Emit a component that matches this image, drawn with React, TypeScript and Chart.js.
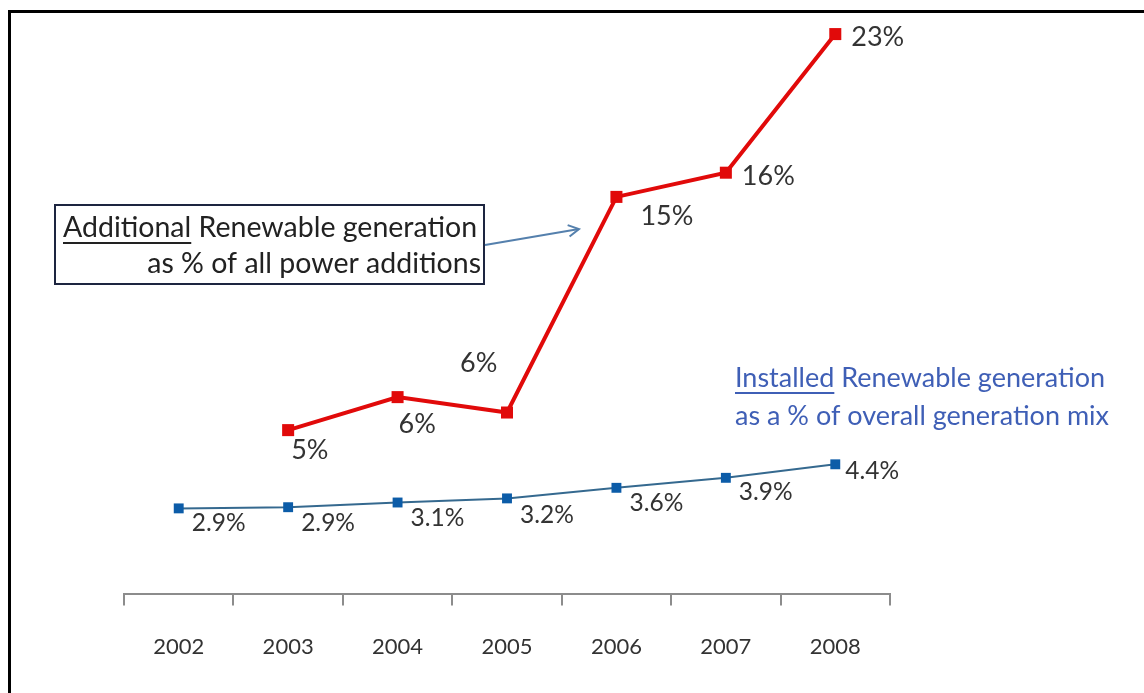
import React, { useEffect, useRef } from "react";
import { Chart, registerables } from "chart.js";

Chart.register(...registerables);

// ---- data ----
const years = ["2002", "2003", "2004", "2005", "2006", "2007", "2008"];
// Additional renewable generation as % of all power additions
const additionalShare: (number | null)[] = [null, 5.0, 6.5, 5.8, 15.6, 16.7, 23.0];
const additionalLabels = ["", "5%", "6%", "6%", "15%", "16%", "23%"];
// Installed renewable generation as % of overall generation mix
const installedShare = [2.9, 2.94, 3.1, 3.24, 3.6, 3.94, 4.4];
const installedLabels = installedShare.map((v) => v.toFixed(1) + "%");

// ---- styling ----
const FONT = "Lato, 'Open Sans', sans-serif";
const TEXT = "#333333";
const RED = "#e10a0a";
const BLUE_LINE = "#35698f";
const BLUE_MARK = "#0c5ca8";
const NOTE_BLUE = "#3f5fb6";
const AXIS = "#8c8c8c";
// label offsets relative to point: [dx to left edge of text, dy to text middle]
const additionalLabelOffsets: ([number, number] | null)[] = [null, [3, 20], [1, 27], [-47, -49], [24, 19], [16, 4], [16, 3]];
const installedLabelOffsets: [number, number][] = [[13, 15], [13, 16], [13, 16], [13, 17], [13, 15], [13, 14], [10, 7]];

function underlinedText(ctx: CanvasRenderingContext2D, first: string, rest: string, x: number, y: number, color: string, ul: number) {
  ctx.fillStyle = color;
  ctx.textAlign = "left";
  ctx.textBaseline = "middle";
  ctx.fillText(first, x, y);
  const w = ctx.measureText(first).width;
  ctx.fillText(rest, x + w, y);
  ctx.strokeStyle = color;
  ctx.lineWidth = 1.8;
  ctx.beginPath();
  ctx.moveTo(x, y + ul);
  ctx.lineTo(x + w, y + ul);
  ctx.stroke();
}

const overlayPlugin = {
  id: "overlay",
  afterDatasetsDraw(chart: any) {
    const ctx: CanvasRenderingContext2D = chart.ctx;
    ctx.save();
    ctx.textAlign = "left";
    ctx.textBaseline = "middle";
    ctx.fillStyle = TEXT;
    // data labels
    ctx.font = `27px ${FONT}`;
    const m0 = chart.getDatasetMeta(0);
    m0.data.forEach((pt: any, i: number) => {
      const off = additionalLabelOffsets[i];
      if (!off || additionalShare[i] == null) return;
      ctx.fillText(additionalLabels[i], pt.x + off[0], pt.y + off[1]);
    });
    ctx.font = `24.5px ${FONT}`;
    const m1 = chart.getDatasetMeta(1);
    m1.data.forEach((pt: any, i: number) => {
      const off = installedLabelOffsets[i];
      ctx.fillText(installedLabels[i], pt.x + off[0], pt.y + off[1]);
    });

    // boxed note
    ctx.strokeStyle = "#1d2540";
    ctx.lineWidth = 2;
    ctx.strokeRect(55, 205, 429, 79);
    ctx.font = `28.5px ${FONT}`;
    underlinedText(ctx, "Additional", " Renewable generation", 63, 228, "#222222", 15);
    ctx.textAlign = "right";
    ctx.fillStyle = "#222222";
    ctx.fillText("as % of all power additions", 481, 264);

    // arrow
    ctx.strokeStyle = "#5580ad";
    ctx.lineWidth = 2;
    ctx.beginPath();
    ctx.moveTo(485, 245);
    ctx.lineTo(579, 229);
    ctx.stroke();
    const ang = Math.atan2(229 - 245, 579 - 485);
    ctx.beginPath();
    ctx.moveTo(579 - 12 * Math.cos(ang - 0.5), 229 - 12 * Math.sin(ang - 0.5));
    ctx.lineTo(579, 229);
    ctx.lineTo(579 - 12 * Math.cos(ang + 0.5), 229 - 12 * Math.sin(ang + 0.5));
    ctx.stroke();

    // installed note
    ctx.font = `27px ${FONT}`;
    underlinedText(ctx, "Installed", " Renewable generation", 735, 378, NOTE_BLUE, 15);
    ctx.textAlign = "left";
    ctx.fillStyle = NOTE_BLUE;
    ctx.fillText("as a % of overall generation mix", 735, 416);
    ctx.restore();
  },
};

export default function App() {
  const ref = useRef<HTMLCanvasElement | null>(null);
  useEffect(() => {
    if (!ref.current) return;
    const chart = new Chart(ref.current, {
      type: "line",
      data: {
        labels: years,
        datasets: [
          {
            data: additionalShare,
            yAxisID: "y2",
            borderColor: RED,
            backgroundColor: RED,
            borderWidth: 4,
            pointStyle: "rect",
            pointRadius: 8.5,
            pointBorderWidth: 0,
            pointBackgroundColor: RED,
            tension: 0,
            clip: false,
          } as any,
          {
            data: installedShare,
            yAxisID: "y",
            borderColor: BLUE_LINE,
            backgroundColor: BLUE_MARK,
            borderWidth: 2,
            pointStyle: "rect",
            pointRadius: 7,
            pointBorderWidth: 0,
            pointBackgroundColor: BLUE_MARK,
            tension: 0,
            clip: false,
          } as any,
        ],
      },
      options: {
        responsive: false,
        animation: false,
        events: [],
        layout: { padding: { left: 124, right: 254, top: 20, bottom: 5 } },
        plugins: { legend: { display: false }, tooltip: { enabled: false } },
        scales: {
          x: {
            type: "category",
            offset: true,
            grid: {
              offset: true,
              drawOnChartArea: false,
              drawTicks: true,
              tickLength: 12,
              color: AXIS,
              lineWidth: 2,
            },
            border: { display: true, color: AXIS, width: 2 },
            ticks: { padding: 28, color: TEXT, font: { family: FONT, size: 22 } },
          },
          y: { display: false, min: 0, max: 19.52 },
          y2: { display: false, min: -2.43, max: 23.64 },
        },
      } as any,
      plugins: [overlayPlugin],
    });
    return () => chart.destroy();
  }, []);

  return (
    <div style={{ position: "fixed", left: 0, top: 0, width: 1144, height: 693, background: "#fff", overflow: "hidden" }}>
      <div
        style={{
          position: "absolute",
          left: 8,
          top: 10,
          width: 1136,
          height: 683,
          borderTop: "3px solid #000",
          borderLeft: "3px solid #000",
          boxSizing: "border-box",
        }}
      />
      <canvas ref={ref} width={1144} height={693} style={{ position: "absolute", left: 0, top: 0, width: 1144, height: 693 }} />
    </div>
  );
}
